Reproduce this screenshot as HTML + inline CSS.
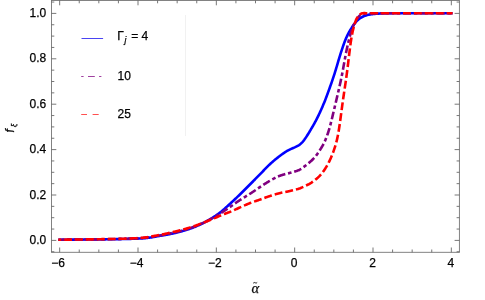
<!DOCTYPE html>
<html><head><meta charset="utf-8"><title>plot</title>
<style>
html,body{margin:0;padding:0;background:#fff;}
svg{display:block;font-family:"Liberation Sans",sans-serif;}
</style></head><body>
<svg width="485" height="300" viewBox="0 0 485 300">
<rect width="485" height="300" fill="#fff"/>
<line x1="185.5" y1="15" x2="185.5" y2="136" stroke="#f1f1f1" stroke-width="1"/>
<g fill="none" stroke-linejoin="round">
<path d="M59.66,239.70 L60.16,239.70 L60.66,239.70 L61.16,239.70 L61.66,239.69 L62.16,239.69 L62.66,239.69 L63.16,239.69 L63.66,239.69 L64.16,239.69 L64.66,239.68 L65.16,239.68 L65.66,239.68 L66.16,239.68 L66.66,239.68 L67.16,239.67 L67.66,239.67 L68.16,239.67 L68.66,239.67 L69.16,239.66 L69.66,239.66 L70.16,239.66 L70.66,239.66 L71.16,239.65 L71.66,239.65 L72.16,239.65 L72.66,239.65 L73.16,239.64 L73.66,239.64 L74.16,239.64 L74.66,239.63 L75.16,239.63 L75.66,239.63 L76.16,239.62 L76.66,239.62 L77.16,239.62 L77.66,239.62 L78.16,239.61 L78.66,239.61 L79.16,239.61 L79.66,239.60 L80.16,239.60 L80.66,239.60 L81.16,239.59 L81.66,239.59 L82.16,239.58 L82.66,239.58 L83.16,239.58 L83.66,239.57 L84.16,239.57 L84.66,239.56 L85.16,239.56 L85.66,239.56 L86.16,239.55 L86.66,239.55 L87.16,239.54 L87.66,239.54 L88.16,239.53 L88.66,239.53 L89.16,239.52 L89.66,239.52 L90.16,239.51 L90.66,239.51 L91.16,239.50 L91.66,239.50 L92.16,239.49 L92.66,239.48 L93.16,239.48 L93.66,239.47 L94.16,239.47 L94.66,239.46 L95.16,239.46 L95.66,239.45 L96.16,239.45 L96.66,239.44 L97.16,239.43 L97.66,239.43 L98.16,239.42 L98.66,239.42 L99.16,239.41 L99.66,239.40 L100.16,239.40 L100.66,239.39 L101.16,239.39 L101.66,239.38 L102.16,239.37 L102.66,239.37 L103.16,239.36 L103.66,239.36 L104.16,239.35 L104.66,239.34 L105.16,239.34 L105.66,239.33 L106.16,239.32 L106.66,239.32 L107.16,239.31 L107.66,239.30 L108.16,239.30 L108.66,239.29 L109.16,239.28 L109.66,239.27 L110.16,239.27 L110.66,239.26 L111.16,239.25 L111.66,239.25 L112.16,239.24 L112.66,239.23 L113.16,239.22 L113.66,239.21 L114.16,239.21 L114.66,239.20 L115.16,239.19 L115.66,239.18 L116.16,239.17 L116.66,239.16 L117.16,239.15 L117.66,239.14 L118.16,239.14 L118.66,239.13 L119.16,239.12 L119.66,239.11 L120.16,239.10 L120.66,239.09 L121.16,239.08 L121.66,239.07 L122.16,239.06 L122.66,239.05 L123.16,239.03 L123.66,239.02 L124.16,239.01 L124.66,239.00 L125.16,238.99 L125.66,238.98 L126.16,238.97 L126.66,238.96 L127.16,238.94 L127.66,238.93 L128.16,238.92 L128.66,238.90 L129.16,238.89 L129.66,238.88 L130.16,238.86 L130.66,238.85 L131.16,238.83 L131.66,238.82 L132.16,238.80 L132.66,238.79 L133.16,238.77 L133.66,238.76 L134.16,238.74 L134.66,238.72 L135.16,238.70 L135.66,238.68 L136.16,238.66 L136.66,238.64 L137.16,238.62 L137.66,238.60 L138.16,238.58 L138.66,238.56 L139.16,238.54 L139.66,238.51 L140.16,238.49 L140.66,238.46 L141.16,238.43 L141.66,238.40 L142.16,238.37 L142.66,238.33 L143.16,238.30 L143.66,238.26 L144.16,238.21 L144.66,238.17 L145.16,238.12 L145.66,238.08 L146.16,238.03 L146.66,237.98 L147.16,237.92 L147.66,237.87 L148.16,237.81 L148.66,237.76 L149.16,237.70 L149.66,237.64 L150.16,237.57 L150.66,237.50 L151.16,237.43 L151.66,237.35 L152.16,237.26 L152.66,237.17 L153.16,237.08 L153.66,236.98 L154.16,236.89 L154.66,236.79 L155.16,236.69 L155.66,236.60 L156.16,236.50 L156.66,236.41 L157.16,236.32 L157.66,236.23 L158.16,236.14 L158.66,236.06 L159.16,235.97 L159.66,235.88 L160.16,235.80 L160.66,235.72 L161.16,235.63 L161.66,235.55 L162.16,235.46 L162.66,235.38 L163.16,235.29 L163.66,235.21 L164.16,235.13 L164.66,235.04 L165.16,234.95 L165.66,234.87 L166.16,234.78 L166.66,234.69 L167.16,234.60 L167.66,234.51 L168.16,234.42 L168.66,234.33 L169.16,234.24 L169.66,234.14 L170.16,234.05 L170.66,233.95 L171.16,233.85 L171.66,233.74 L172.16,233.64 L172.66,233.53 L173.16,233.43 L173.66,233.32 L174.16,233.20 L174.66,233.09 L175.16,232.97 L175.66,232.86 L176.16,232.74 L176.66,232.61 L177.16,232.49 L177.66,232.36 L178.16,232.24 L178.66,232.11 L179.16,231.98 L179.66,231.84 L180.16,231.71 L180.66,231.57 L181.16,231.43 L181.66,231.29 L182.16,231.15 L182.66,231.01 L183.16,230.86 L183.66,230.71 L184.16,230.56 L184.66,230.41 L185.16,230.26 L185.66,230.11 L186.16,229.95 L186.66,229.79 L187.16,229.63 L187.66,229.47 L188.16,229.31 L188.66,229.15 L189.16,228.98 L189.66,228.81 L190.16,228.64 L190.66,228.46 L191.16,228.29 L191.66,228.11 L192.16,227.92 L192.66,227.73 L193.16,227.54 L193.66,227.34 L194.16,227.14 L194.66,226.94 L195.16,226.73 L195.66,226.52 L196.16,226.31 L196.66,226.09 L197.16,225.88 L197.66,225.66 L198.16,225.43 L198.66,225.21 L199.16,224.98 L199.66,224.75 L200.16,224.52 L200.66,224.28 L201.16,224.05 L201.66,223.81 L202.16,223.56 L202.66,223.31 L203.16,223.06 L203.66,222.81 L204.16,222.55 L204.66,222.29 L205.16,222.02 L205.66,221.75 L206.16,221.48 L206.66,221.21 L207.16,220.93 L207.66,220.65 L208.16,220.36 L208.66,220.08 L209.16,219.79 L209.66,219.49 L210.16,219.20 L210.66,218.90 L211.16,218.60 L211.66,218.29 L212.16,217.98 L212.66,217.67 L213.16,217.35 L213.66,217.03 L214.16,216.71 L214.66,216.38 L215.16,216.05 L215.66,215.71 L216.16,215.37 L216.66,215.02 L217.16,214.67 L217.66,214.32 L218.16,213.96 L218.66,213.59 L219.16,213.22 L219.66,212.84 L220.16,212.46 L220.66,212.07 L221.16,211.67 L221.66,211.27 L222.16,210.85 L222.66,210.43 L223.16,210.00 L223.66,209.57 L224.16,209.13 L224.66,208.68 L225.16,208.23 L225.66,207.78 L226.16,207.33 L226.66,206.87 L227.16,206.41 L227.66,205.95 L228.16,205.49 L228.66,205.03 L229.16,204.57 L229.66,204.11 L230.16,203.65 L230.66,203.20 L231.16,202.74 L231.66,202.28 L232.16,201.82 L232.66,201.36 L233.16,200.89 L233.66,200.43 L234.16,199.96 L234.66,199.49 L235.16,199.02 L235.66,198.55 L236.16,198.08 L236.66,197.60 L237.16,197.13 L237.66,196.65 L238.16,196.17 L238.66,195.69 L239.16,195.21 L239.66,194.73 L240.16,194.24 L240.66,193.75 L241.16,193.26 L241.66,192.77 L242.16,192.28 L242.66,191.78 L243.16,191.29 L243.66,190.79 L244.16,190.29 L244.66,189.78 L245.16,189.28 L245.66,188.78 L246.16,188.27 L246.66,187.77 L247.16,187.26 L247.66,186.76 L248.16,186.26 L248.66,185.75 L249.16,185.25 L249.66,184.74 L250.16,184.24 L250.66,183.74 L251.16,183.23 L251.66,182.73 L252.16,182.23 L252.66,181.72 L253.16,181.22 L253.66,180.71 L254.16,180.21 L254.66,179.71 L255.16,179.20 L255.66,178.70 L256.16,178.19 L256.66,177.68 L257.16,177.18 L257.66,176.67 L258.16,176.17 L258.66,175.66 L259.16,175.15 L259.66,174.64 L260.16,174.13 L260.66,173.62 L261.16,173.10 L261.66,172.58 L262.16,172.06 L262.66,171.54 L263.16,171.01 L263.66,170.49 L264.16,169.96 L264.66,169.44 L265.16,168.91 L265.66,168.39 L266.16,167.88 L266.66,167.37 L267.16,166.86 L267.66,166.36 L268.16,165.87 L268.66,165.38 L269.16,164.90 L269.66,164.43 L270.16,163.97 L270.66,163.51 L271.16,163.06 L271.66,162.62 L272.16,162.18 L272.66,161.74 L273.16,161.31 L273.66,160.88 L274.16,160.46 L274.66,160.04 L275.16,159.62 L275.66,159.21 L276.16,158.81 L276.66,158.40 L277.16,158.00 L277.66,157.61 L278.16,157.22 L278.66,156.83 L279.16,156.44 L279.66,156.06 L280.16,155.68 L280.66,155.31 L281.16,154.94 L281.66,154.57 L282.16,154.21 L282.66,153.85 L283.16,153.49 L283.66,153.14 L284.16,152.80 L284.66,152.47 L285.16,152.14 L285.66,151.83 L286.16,151.52 L286.66,151.22 L287.16,150.92 L287.66,150.64 L288.16,150.36 L288.66,150.09 L289.16,149.84 L289.66,149.59 L290.16,149.35 L290.66,149.12 L291.16,148.90 L291.66,148.68 L292.16,148.47 L292.66,148.26 L293.16,148.05 L293.66,147.84 L294.16,147.62 L294.66,147.40 L295.16,147.18 L295.66,146.94 L296.16,146.70 L296.66,146.45 L297.16,146.18 L297.66,145.90 L298.16,145.61 L298.66,145.29 L299.16,144.96 L299.66,144.60 L300.16,144.21 L300.66,143.79 L301.16,143.35 L301.66,142.87 L302.16,142.36 L302.66,141.82 L303.16,141.24 L303.66,140.62 L304.16,139.98 L304.66,139.30 L305.16,138.60 L305.66,137.87 L306.16,137.12 L306.66,136.36 L307.16,135.57 L307.66,134.77 L308.16,133.96 L308.66,133.14 L309.16,132.31 L309.66,131.47 L310.16,130.64 L310.66,129.80 L311.16,128.96 L311.66,128.12 L312.16,127.27 L312.66,126.42 L313.16,125.56 L313.66,124.68 L314.16,123.79 L314.66,122.89 L315.16,121.97 L315.66,121.04 L316.16,120.09 L316.66,119.12 L317.16,118.14 L317.66,117.14 L318.16,116.13 L318.66,115.10 L319.16,114.06 L319.66,113.00 L320.16,111.92 L320.66,110.82 L321.16,109.71 L321.66,108.58 L322.16,107.43 L322.66,106.26 L323.16,105.08 L323.66,103.87 L324.16,102.65 L324.66,101.41 L325.16,100.15 L325.66,98.86 L326.16,97.55 L326.66,96.22 L327.16,94.87 L327.66,93.50 L328.16,92.12 L328.66,90.74 L329.16,89.34 L329.66,87.95 L330.16,86.56 L330.66,85.16 L331.16,83.76 L331.66,82.34 L332.16,80.90 L332.66,79.44 L333.16,77.95 L333.66,76.43 L334.16,74.88 L334.66,73.30 L335.16,71.70 L335.66,70.07 L336.16,68.42 L336.66,66.75 L337.16,65.07 L337.66,63.37 L338.16,61.67 L338.66,59.99 L339.16,58.31 L339.66,56.66 L340.16,55.04 L340.66,53.45 L341.16,51.88 L341.66,50.33 L342.16,48.82 L342.66,47.35 L343.16,45.91 L343.66,44.51 L344.16,43.15 L344.66,41.83 L345.16,40.55 L345.66,39.31 L346.16,38.11 L346.66,36.96 L347.16,35.85 L347.66,34.80 L348.16,33.79 L348.66,32.83 L349.16,31.92 L349.66,31.05 L350.16,30.21 L350.66,29.40 L351.16,28.61 L351.66,27.83 L352.16,27.07 L352.66,26.32 L353.16,25.59 L353.66,24.86 L354.16,24.16 L354.66,23.48 L355.16,22.83 L355.66,22.22 L356.16,21.65 L356.66,21.12 L357.16,20.62 L357.66,20.15 L358.16,19.71 L358.66,19.29 L359.16,18.90 L359.66,18.52 L360.16,18.17 L360.66,17.85 L361.16,17.54 L361.66,17.26 L362.16,16.99 L362.66,16.74 L363.16,16.51 L363.66,16.29 L364.16,16.08 L364.66,15.89 L365.16,15.70 L365.66,15.53 L366.16,15.38 L366.66,15.23 L367.16,15.10 L367.66,14.97 L368.16,14.85 L368.66,14.74 L369.16,14.64 L369.66,14.54 L370.16,14.45 L370.66,14.36 L371.16,14.29 L371.66,14.22 L372.16,14.15 L372.66,14.09 L373.16,14.03 L373.66,13.98 L374.16,13.93 L374.66,13.88 L375.16,13.84 L375.66,13.80 L376.16,13.76 L376.66,13.73 L377.16,13.69 L377.66,13.66 L378.16,13.63 L378.66,13.61 L379.16,13.58 L379.66,13.56 L380.16,13.53 L380.66,13.51 L381.16,13.49 L381.66,13.47 L382.16,13.45 L382.66,13.44 L383.16,13.42 L383.66,13.41 L384.16,13.40 L384.66,13.39 L385.16,13.38 L385.66,13.37 L386.16,13.36 L386.66,13.35 L387.16,13.34 L387.66,13.34 L388.16,13.33 L388.66,13.32 L389.16,13.32 L389.66,13.31 L390.16,13.31 L390.66,13.31 L391.16,13.30 L391.66,13.30 L392.16,13.30 L392.66,13.30 L393.16,13.30 L393.66,13.30 L394.16,13.30 L394.66,13.30 L395.16,13.30 L395.66,13.30 L396.16,13.30 L396.66,13.30 L397.16,13.30 L397.66,13.30 L398.16,13.30 L398.66,13.30 L399.16,13.30 L399.66,13.30 L400.16,13.30 L400.66,13.30 L401.16,13.30 L401.66,13.30 L402.16,13.30 L402.66,13.30 L403.16,13.30 L403.66,13.30 L404.16,13.30 L404.66,13.30 L405.16,13.30 L405.66,13.30 L406.16,13.30 L406.66,13.30 L407.16,13.30 L407.66,13.30 L408.16,13.30 L408.66,13.30 L409.16,13.30 L409.66,13.30 L410.16,13.30 L410.66,13.30 L411.16,13.30 L411.66,13.30 L412.16,13.30 L412.66,13.30 L413.16,13.30 L413.66,13.30 L414.16,13.30 L414.66,13.30 L415.16,13.30 L415.66,13.30 L416.16,13.30 L416.66,13.30 L417.16,13.30 L417.66,13.30 L418.16,13.30 L418.66,13.30 L419.16,13.30 L419.66,13.30 L420.16,13.30 L420.66,13.30 L421.16,13.30 L421.66,13.30 L422.16,13.30 L422.66,13.30 L423.16,13.30 L423.66,13.30 L424.16,13.30 L424.66,13.30 L425.16,13.30 L425.66,13.30 L426.16,13.30 L426.66,13.30 L427.16,13.30 L427.66,13.30 L428.16,13.30 L428.66,13.30 L429.16,13.30 L429.66,13.30 L430.16,13.30 L430.66,13.30 L431.16,13.30 L431.66,13.30 L432.16,13.30 L432.66,13.30 L433.16,13.30 L433.66,13.30 L434.16,13.30 L434.66,13.30 L435.16,13.30 L435.66,13.30 L436.16,13.30 L436.66,13.30 L437.16,13.30 L437.66,13.30 L438.16,13.30 L438.66,13.30 L439.16,13.30 L439.66,13.30 L440.16,13.30 L440.66,13.30 L441.16,13.30 L441.66,13.30 L442.16,13.30 L442.66,13.30 L443.16,13.30 L443.66,13.30 L444.16,13.30 L444.66,13.30 L445.16,13.30 L445.66,13.30 L446.16,13.30 L446.66,13.30 L447.16,13.30 L447.66,13.30 L448.16,13.30 L448.66,13.30 L449.16,13.30 L449.66,13.30 L450.16,13.30 L450.66,13.30 L451.34,13.30" stroke="#0000ff" stroke-width="2.6" stroke-linecap="square"/>
<path d="M59.66,239.70 L60.16,239.69 L60.66,239.69 L61.16,239.69 L61.66,239.68 L62.16,239.68 L62.66,239.67 L63.16,239.67 L63.66,239.66 L64.16,239.66 L64.66,239.65 L65.16,239.65 L65.66,239.64 L66.16,239.64 L66.66,239.63 L67.16,239.63 L67.66,239.62 L68.16,239.62 L68.66,239.61 L69.16,239.61 L69.66,239.60 L70.16,239.60 L70.66,239.59 L71.16,239.59 L71.66,239.58 L72.16,239.58 L72.66,239.57 L73.16,239.57 L73.66,239.56 L74.16,239.56 L74.66,239.55 L75.16,239.55 L75.66,239.54 L76.16,239.54 L76.66,239.53 L77.16,239.53 L77.66,239.52 L78.16,239.52 L78.66,239.51 L79.16,239.51 L79.66,239.50 L80.16,239.50 L80.66,239.49 L81.16,239.49 L81.66,239.48 L82.16,239.48 L82.66,239.47 L83.16,239.47 L83.66,239.47 L84.16,239.46 L84.66,239.46 L85.16,239.45 L85.66,239.45 L86.16,239.44 L86.66,239.44 L87.16,239.43 L87.66,239.43 L88.16,239.43 L88.66,239.42 L89.16,239.42 L89.66,239.41 L90.16,239.41 L90.66,239.40 L91.16,239.40 L91.66,239.39 L92.16,239.39 L92.66,239.38 L93.16,239.38 L93.66,239.37 L94.16,239.37 L94.66,239.36 L95.16,239.36 L95.66,239.35 L96.16,239.35 L96.66,239.34 L97.16,239.34 L97.66,239.33 L98.16,239.32 L98.66,239.32 L99.16,239.31 L99.66,239.30 L100.16,239.30 L100.66,239.29 L101.16,239.28 L101.66,239.28 L102.16,239.27 L102.66,239.26 L103.16,239.25 L103.66,239.25 L104.16,239.24 L104.66,239.23 L105.16,239.22 L105.66,239.21 L106.16,239.20 L106.66,239.19 L107.16,239.19 L107.66,239.18 L108.16,239.17 L108.66,239.16 L109.16,239.15 L109.66,239.14 L110.16,239.13 L110.66,239.12 L111.16,239.11 L111.66,239.10 L112.16,239.08 L112.66,239.07 L113.16,239.06 L113.66,239.05 L114.16,239.04 L114.66,239.03 L115.16,239.02 L115.66,239.01 L116.16,238.99 L116.66,238.98 L117.16,238.97 L117.66,238.96 L118.16,238.95 L118.66,238.93 L119.16,238.92 L119.66,238.91 L120.16,238.90 L120.66,238.88 L121.16,238.87 L121.66,238.86 L122.16,238.85 L122.66,238.83 L123.16,238.82 L123.66,238.81 L124.16,238.79 L124.66,238.78 L125.16,238.77 L125.66,238.75 L126.16,238.74 L126.66,238.73 L127.16,238.71 L127.66,238.70 L128.16,238.68 L128.66,238.67 L129.16,238.65 L129.66,238.64 L130.16,238.62 L130.66,238.60 L131.16,238.59 L131.66,238.57 L132.16,238.55 L132.66,238.53 L133.16,238.52 L133.66,238.50 L134.16,238.48 L134.66,238.46 L135.16,238.44 L135.66,238.41 L136.16,238.39 L136.66,238.37 L137.16,238.35 L137.66,238.32 L138.16,238.30 L138.66,238.27 L139.16,238.24 L139.66,238.22 L140.16,238.19 L140.66,238.15 L141.16,238.12 L141.66,238.08 L142.16,238.04 L142.66,237.99 L143.16,237.95 L143.66,237.90 L144.16,237.84 L144.66,237.79 L145.16,237.73 L145.66,237.67 L146.16,237.61 L146.66,237.54 L147.16,237.47 L147.66,237.40 L148.16,237.33 L148.66,237.26 L149.16,237.19 L149.66,237.11 L150.16,237.04 L150.66,236.96 L151.16,236.88 L151.66,236.80 L152.16,236.72 L152.66,236.65 L153.16,236.57 L153.66,236.48 L154.16,236.40 L154.66,236.32 L155.16,236.24 L155.66,236.17 L156.16,236.09 L156.66,236.01 L157.16,235.93 L157.66,235.85 L158.16,235.76 L158.66,235.68 L159.16,235.60 L159.66,235.51 L160.16,235.43 L160.66,235.34 L161.16,235.25 L161.66,235.17 L162.16,235.08 L162.66,234.98 L163.16,234.89 L163.66,234.80 L164.16,234.70 L164.66,234.61 L165.16,234.51 L165.66,234.42 L166.16,234.32 L166.66,234.22 L167.16,234.12 L167.66,234.01 L168.16,233.91 L168.66,233.81 L169.16,233.70 L169.66,233.60 L170.16,233.49 L170.66,233.38 L171.16,233.27 L171.66,233.16 L172.16,233.05 L172.66,232.94 L173.16,232.83 L173.66,232.72 L174.16,232.60 L174.66,232.48 L175.16,232.37 L175.66,232.25 L176.16,232.13 L176.66,232.01 L177.16,231.88 L177.66,231.76 L178.16,231.63 L178.66,231.51 L179.16,231.38 L179.66,231.25 L180.16,231.12 L180.66,230.99 L181.16,230.85 L181.66,230.71 L182.16,230.58 L182.66,230.44 L183.16,230.30 L183.66,230.15 L184.16,230.01 L184.66,229.86 L185.16,229.72 L185.66,229.57 L186.16,229.42 L186.66,229.26 L187.16,229.11 L187.66,228.95 L188.16,228.79 L188.66,228.63 L189.16,228.47 L189.66,228.31 L190.16,228.14 L190.66,227.97 L191.16,227.80 L191.66,227.62 L192.16,227.45 L192.66,227.27 L193.16,227.08 L193.66,226.90 L194.16,226.71 L194.66,226.51 L195.16,226.32 L195.66,226.12 L196.16,225.92 L196.66,225.72 L197.16,225.51 L197.66,225.31 L198.16,225.10 L198.66,224.88 L199.16,224.67 L199.66,224.45 L200.16,224.24 L200.66,224.01 L201.16,223.79 L201.66,223.57 L202.16,223.34 L202.66,223.11 L203.16,222.88 L203.66,222.65 L204.16,222.41 L204.66,222.18 L205.16,221.94 L205.66,221.70 L206.16,221.46 L206.66,221.21 L207.16,220.97 L207.66,220.72 L208.16,220.46 L208.66,220.20 L209.16,219.94 L209.66,219.68 L210.16,219.41 L210.66,219.13 L211.16,218.86 L211.66,218.58 L212.16,218.29 L212.66,218.01 L213.16,217.72 L213.66,217.43 L214.16,217.13 L214.66,216.84 L215.16,216.54 L215.66,216.24 L216.16,215.94 L216.66,215.64 L217.16,215.34 L217.66,215.03 L218.16,214.73 L218.66,214.42 L219.16,214.11 L219.66,213.81 L220.16,213.50 L220.66,213.19 L221.16,212.87 L221.66,212.56 L222.16,212.24 L222.66,211.91 L223.16,211.59 L223.66,211.26 L224.16,210.93 L224.66,210.60 L225.16,210.27 L225.66,209.94 L226.16,209.60 L226.66,209.26 L227.16,208.93 L227.66,208.59 L228.16,208.25 L228.66,207.91 L229.16,207.57 L229.66,207.23 L230.16,206.89 L230.66,206.54 L231.16,206.20 L231.66,205.85 L232.16,205.50 L232.66,205.14 L233.16,204.79 L233.66,204.43 L234.16,204.07 L234.66,203.72 L235.16,203.36 L235.66,203.00 L236.16,202.65 L236.66,202.29 L237.16,201.94 L237.66,201.59 L238.16,201.25 L238.66,200.91 L239.16,200.57 L239.66,200.23 L240.16,199.90 L240.66,199.58 L241.16,199.26 L241.66,198.94 L242.16,198.63 L242.66,198.31 L243.16,198.01 L243.66,197.70 L244.16,197.39 L244.66,197.09 L245.16,196.79 L245.66,196.48 L246.16,196.18 L246.66,195.88 L247.16,195.57 L247.66,195.26 L248.16,194.95 L248.66,194.64 L249.16,194.33 L249.66,194.01 L250.16,193.69 L250.66,193.37 L251.16,193.04 L251.66,192.71 L252.16,192.38 L252.66,192.04 L253.16,191.71 L253.66,191.37 L254.16,191.03 L254.66,190.69 L255.16,190.35 L255.66,190.01 L256.16,189.67 L256.66,189.34 L257.16,189.00 L257.66,188.66 L258.16,188.32 L258.66,187.99 L259.16,187.66 L259.66,187.33 L260.16,186.99 L260.66,186.66 L261.16,186.33 L261.66,186.00 L262.16,185.67 L262.66,185.34 L263.16,185.00 L263.66,184.67 L264.16,184.34 L264.66,184.01 L265.16,183.68 L265.66,183.36 L266.16,183.04 L266.66,182.72 L267.16,182.40 L267.66,182.09 L268.16,181.79 L268.66,181.49 L269.16,181.19 L269.66,180.90 L270.16,180.61 L270.66,180.33 L271.16,180.05 L271.66,179.77 L272.16,179.49 L272.66,179.21 L273.16,178.94 L273.66,178.67 L274.16,178.40 L274.66,178.13 L275.16,177.87 L275.66,177.62 L276.16,177.37 L276.66,177.13 L277.16,176.89 L277.66,176.67 L278.16,176.45 L278.66,176.24 L279.16,176.04 L279.66,175.84 L280.16,175.66 L280.66,175.48 L281.16,175.32 L281.66,175.16 L282.16,175.00 L282.66,174.85 L283.16,174.71 L283.66,174.57 L284.16,174.43 L284.66,174.30 L285.16,174.16 L285.66,174.03 L286.16,173.90 L286.66,173.78 L287.16,173.65 L287.66,173.52 L288.16,173.39 L288.66,173.26 L289.16,173.13 L289.66,172.99 L290.16,172.86 L290.66,172.72 L291.16,172.59 L291.66,172.45 L292.16,172.32 L292.66,172.18 L293.16,172.04 L293.66,171.90 L294.16,171.75 L294.66,171.60 L295.16,171.44 L295.66,171.28 L296.16,171.11 L296.66,170.94 L297.16,170.77 L297.66,170.58 L298.16,170.39 L298.66,170.18 L299.16,169.96 L299.66,169.72 L300.16,169.46 L300.66,169.18 L301.16,168.87 L301.66,168.54 L302.16,168.19 L302.66,167.82 L303.16,167.44 L303.66,167.05 L304.16,166.66 L304.66,166.27 L305.16,165.88 L305.66,165.50 L306.16,165.11 L306.66,164.73 L307.16,164.34 L307.66,163.94 L308.16,163.54 L308.66,163.13 L309.16,162.71 L309.66,162.28 L310.16,161.84 L310.66,161.39 L311.16,160.93 L311.66,160.46 L312.16,159.98 L312.66,159.49 L313.16,158.98 L313.66,158.45 L314.16,157.91 L314.66,157.35 L315.16,156.76 L315.66,156.15 L316.16,155.52 L316.66,154.87 L317.16,154.19 L317.66,153.49 L318.16,152.77 L318.66,152.03 L319.16,151.28 L319.66,150.51 L320.16,149.72 L320.66,148.92 L321.16,148.10 L321.66,147.27 L322.16,146.41 L322.66,145.52 L323.16,144.61 L323.66,143.65 L324.16,142.66 L324.66,141.61 L325.16,140.51 L325.66,139.34 L326.16,138.10 L326.66,136.80 L327.16,135.43 L327.66,133.99 L328.16,132.48 L328.66,130.90 L329.16,129.25 L329.66,127.52 L330.16,125.71 L330.66,123.82 L331.16,121.85 L331.66,119.81 L332.16,117.73 L332.66,115.62 L333.16,113.49 L333.66,111.38 L334.16,109.28 L334.66,107.19 L335.16,105.10 L335.66,103.01 L336.16,100.90 L336.66,98.79 L337.16,96.65 L337.66,94.51 L338.16,92.35 L338.66,90.17 L339.16,87.98 L339.66,85.77 L340.16,83.53 L340.66,81.25 L341.16,78.90 L341.66,76.47 L342.16,73.94 L342.66,71.30 L343.16,68.57 L343.66,65.78 L344.16,62.96 L344.66,60.15 L345.16,57.41 L345.66,54.76 L346.16,52.22 L346.66,49.79 L347.16,47.46 L347.66,45.22 L348.16,43.06 L348.66,40.98 L349.16,38.96 L349.66,37.02 L350.16,35.16 L350.66,33.41 L351.16,31.76 L351.66,30.23 L352.16,28.81 L352.66,27.49 L353.16,26.25 L353.66,25.08 L354.16,23.98 L354.66,22.93 L355.16,21.95 L355.66,21.02 L356.16,20.16 L356.66,19.35 L357.16,18.59 L357.66,17.89 L358.16,17.25 L358.66,16.66 L359.16,16.15 L359.66,15.70 L360.16,15.32 L360.66,14.99 L361.16,14.72 L361.66,14.48 L362.16,14.27 L362.66,14.09 L363.16,13.94 L363.66,13.81 L364.16,13.71 L364.66,13.62 L365.16,13.54 L365.66,13.48 L366.16,13.42 L366.66,13.38 L367.16,13.35 L367.66,13.33 L368.16,13.31 L368.66,13.30 L369.16,13.30 L369.66,13.30 L370.16,13.30 L370.66,13.30 L371.16,13.30 L371.66,13.30 L372.16,13.30 L372.66,13.30 L373.16,13.30 L373.66,13.30 L374.16,13.30 L374.66,13.30 L375.16,13.30 L375.66,13.30 L376.16,13.30 L376.66,13.30 L377.16,13.30 L377.66,13.30 L378.16,13.30 L378.66,13.30 L379.16,13.30 L379.66,13.30 L380.16,13.30 L380.66,13.30 L381.16,13.30 L381.66,13.30 L382.16,13.30 L382.66,13.30 L383.16,13.30 L383.66,13.30 L384.16,13.30 L384.66,13.30 L385.16,13.30 L385.66,13.30 L386.16,13.30 L386.66,13.30 L387.16,13.30 L387.66,13.30 L388.16,13.30 L388.66,13.30 L389.16,13.30 L389.66,13.30 L390.16,13.30 L390.66,13.30 L391.16,13.30 L391.66,13.30 L392.16,13.30 L392.66,13.30 L393.16,13.30 L393.66,13.30 L394.16,13.30 L394.66,13.30 L395.16,13.30 L395.66,13.30 L396.16,13.30 L396.66,13.30 L397.16,13.30 L397.66,13.30 L398.16,13.30 L398.66,13.30 L399.16,13.30 L399.66,13.30 L400.16,13.30 L400.66,13.30 L401.16,13.30 L401.66,13.30 L402.16,13.30 L402.66,13.30 L403.16,13.30 L403.66,13.30 L404.16,13.30 L404.66,13.30 L405.16,13.30 L405.66,13.30 L406.16,13.30 L406.66,13.30 L407.16,13.30 L407.66,13.30 L408.16,13.30 L408.66,13.30 L409.16,13.30 L409.66,13.30 L410.16,13.30 L410.66,13.30 L411.16,13.30 L411.66,13.30 L412.16,13.30 L412.66,13.30 L413.16,13.30 L413.66,13.30 L414.16,13.30 L414.66,13.30 L415.16,13.30 L415.66,13.30 L416.16,13.30 L416.66,13.30 L417.16,13.30 L417.66,13.30 L418.16,13.30 L418.66,13.30 L419.16,13.30 L419.66,13.30 L420.16,13.30 L420.66,13.30 L421.16,13.30 L421.66,13.30 L422.16,13.30 L422.66,13.30 L423.16,13.30 L423.66,13.30 L424.16,13.30 L424.66,13.30 L425.16,13.30 L425.66,13.30 L426.16,13.30 L426.66,13.30 L427.16,13.30 L427.66,13.30 L428.16,13.30 L428.66,13.30 L429.16,13.30 L429.66,13.30 L430.16,13.30 L430.66,13.30 L431.16,13.30 L431.66,13.30 L432.16,13.30 L432.66,13.30 L433.16,13.30 L433.66,13.30 L434.16,13.30 L434.66,13.30 L435.16,13.30 L435.66,13.30 L436.16,13.30 L436.66,13.30 L437.16,13.30 L437.66,13.30 L438.16,13.30 L438.66,13.30 L439.16,13.30 L439.66,13.30 L440.16,13.30 L440.66,13.30 L441.16,13.30 L441.66,13.30 L442.16,13.30 L442.66,13.30 L443.16,13.30 L443.66,13.30 L444.16,13.30 L444.66,13.30 L445.16,13.30 L445.66,13.30 L446.16,13.30 L446.66,13.30 L447.16,13.30 L447.66,13.30 L448.16,13.30 L448.66,13.30 L449.16,13.30 L449.66,13.30 L450.16,13.30 L450.66,13.30 L451.34,13.30" stroke="#800080" stroke-width="2.6" stroke-linecap="square" stroke-dasharray="1 5.4 5.1 5.4" stroke-dashoffset="7.9"/>
<path d="M59.66,239.70 L60.16,239.70 L60.66,239.69 L61.16,239.69 L61.66,239.69 L62.16,239.68 L62.66,239.68 L63.16,239.67 L63.66,239.67 L64.16,239.66 L64.66,239.66 L65.16,239.66 L65.66,239.65 L66.16,239.65 L66.66,239.64 L67.16,239.64 L67.66,239.63 L68.16,239.63 L68.66,239.62 L69.16,239.62 L69.66,239.61 L70.16,239.61 L70.66,239.60 L71.16,239.60 L71.66,239.59 L72.16,239.59 L72.66,239.58 L73.16,239.58 L73.66,239.57 L74.16,239.57 L74.66,239.56 L75.16,239.56 L75.66,239.55 L76.16,239.54 L76.66,239.54 L77.16,239.53 L77.66,239.53 L78.16,239.52 L78.66,239.52 L79.16,239.51 L79.66,239.50 L80.16,239.50 L80.66,239.49 L81.16,239.49 L81.66,239.48 L82.16,239.47 L82.66,239.47 L83.16,239.46 L83.66,239.45 L84.16,239.45 L84.66,239.44 L85.16,239.43 L85.66,239.43 L86.16,239.42 L86.66,239.41 L87.16,239.41 L87.66,239.40 L88.16,239.39 L88.66,239.38 L89.16,239.38 L89.66,239.37 L90.16,239.36 L90.66,239.35 L91.16,239.35 L91.66,239.34 L92.16,239.33 L92.66,239.32 L93.16,239.31 L93.66,239.31 L94.16,239.30 L94.66,239.29 L95.16,239.28 L95.66,239.27 L96.16,239.26 L96.66,239.26 L97.16,239.25 L97.66,239.24 L98.16,239.23 L98.66,239.22 L99.16,239.21 L99.66,239.21 L100.16,239.20 L100.66,239.19 L101.16,239.18 L101.66,239.17 L102.16,239.16 L102.66,239.15 L103.16,239.15 L103.66,239.14 L104.16,239.13 L104.66,239.12 L105.16,239.11 L105.66,239.10 L106.16,239.09 L106.66,239.08 L107.16,239.08 L107.66,239.07 L108.16,239.06 L108.66,239.05 L109.16,239.04 L109.66,239.03 L110.16,239.02 L110.66,239.01 L111.16,239.00 L111.66,238.99 L112.16,238.98 L112.66,238.97 L113.16,238.96 L113.66,238.95 L114.16,238.94 L114.66,238.93 L115.16,238.92 L115.66,238.91 L116.16,238.89 L116.66,238.88 L117.16,238.87 L117.66,238.86 L118.16,238.85 L118.66,238.83 L119.16,238.82 L119.66,238.81 L120.16,238.80 L120.66,238.78 L121.16,238.77 L121.66,238.76 L122.16,238.74 L122.66,238.73 L123.16,238.71 L123.66,238.70 L124.16,238.68 L124.66,238.67 L125.16,238.65 L125.66,238.64 L126.16,238.62 L126.66,238.61 L127.16,238.59 L127.66,238.58 L128.16,238.56 L128.66,238.54 L129.16,238.52 L129.66,238.51 L130.16,238.49 L130.66,238.47 L131.16,238.45 L131.66,238.43 L132.16,238.41 L132.66,238.39 L133.16,238.36 L133.66,238.34 L134.16,238.32 L134.66,238.30 L135.16,238.27 L135.66,238.25 L136.16,238.22 L136.66,238.19 L137.16,238.17 L137.66,238.14 L138.16,238.11 L138.66,238.08 L139.16,238.05 L139.66,238.02 L140.16,237.98 L140.66,237.95 L141.16,237.91 L141.66,237.86 L142.16,237.82 L142.66,237.76 L143.16,237.71 L143.66,237.65 L144.16,237.59 L144.66,237.53 L145.16,237.46 L145.66,237.39 L146.16,237.32 L146.66,237.24 L147.16,237.17 L147.66,237.09 L148.16,237.01 L148.66,236.93 L149.16,236.84 L149.66,236.76 L150.16,236.67 L150.66,236.58 L151.16,236.50 L151.66,236.41 L152.16,236.32 L152.66,236.23 L153.16,236.14 L153.66,236.05 L154.16,235.96 L154.66,235.86 L155.16,235.77 L155.66,235.69 L156.16,235.60 L156.66,235.51 L157.16,235.42 L157.66,235.33 L158.16,235.24 L158.66,235.14 L159.16,235.05 L159.66,234.96 L160.16,234.86 L160.66,234.76 L161.16,234.67 L161.66,234.57 L162.16,234.47 L162.66,234.36 L163.16,234.26 L163.66,234.16 L164.16,234.05 L164.66,233.95 L165.16,233.84 L165.66,233.73 L166.16,233.63 L166.66,233.52 L167.16,233.41 L167.66,233.30 L168.16,233.18 L168.66,233.07 L169.16,232.96 L169.66,232.85 L170.16,232.73 L170.66,232.62 L171.16,232.50 L171.66,232.38 L172.16,232.27 L172.66,232.15 L173.16,232.03 L173.66,231.91 L174.16,231.79 L174.66,231.67 L175.16,231.55 L175.66,231.43 L176.16,231.31 L176.66,231.19 L177.16,231.06 L177.66,230.94 L178.16,230.81 L178.66,230.68 L179.16,230.55 L179.66,230.43 L180.16,230.30 L180.66,230.16 L181.16,230.03 L181.66,229.90 L182.16,229.76 L182.66,229.63 L183.16,229.49 L183.66,229.35 L184.16,229.22 L184.66,229.08 L185.16,228.93 L185.66,228.79 L186.16,228.65 L186.66,228.50 L187.16,228.36 L187.66,228.21 L188.16,228.06 L188.66,227.91 L189.16,227.76 L189.66,227.60 L190.16,227.45 L190.66,227.29 L191.16,227.13 L191.66,226.97 L192.16,226.80 L192.66,226.64 L193.16,226.47 L193.66,226.30 L194.16,226.13 L194.66,225.95 L195.16,225.78 L195.66,225.60 L196.16,225.42 L196.66,225.24 L197.16,225.06 L197.66,224.88 L198.16,224.69 L198.66,224.51 L199.16,224.32 L199.66,224.13 L200.16,223.94 L200.66,223.75 L201.16,223.56 L201.66,223.37 L202.16,223.17 L202.66,222.98 L203.16,222.79 L203.66,222.59 L204.16,222.40 L204.66,222.20 L205.16,222.00 L205.66,221.81 L206.16,221.61 L206.66,221.41 L207.16,221.21 L207.66,221.01 L208.16,220.81 L208.66,220.61 L209.16,220.40 L209.66,220.19 L210.16,219.98 L210.66,219.77 L211.16,219.56 L211.66,219.35 L212.16,219.14 L212.66,218.92 L213.16,218.71 L213.66,218.50 L214.16,218.28 L214.66,218.07 L215.16,217.86 L215.66,217.64 L216.16,217.43 L216.66,217.22 L217.16,217.00 L217.66,216.79 L218.16,216.57 L218.66,216.36 L219.16,216.14 L219.66,215.92 L220.16,215.71 L220.66,215.49 L221.16,215.28 L221.66,215.07 L222.16,214.86 L222.66,214.65 L223.16,214.45 L223.66,214.24 L224.16,214.04 L224.66,213.85 L225.16,213.66 L225.66,213.47 L226.16,213.28 L226.66,213.10 L227.16,212.92 L227.66,212.74 L228.16,212.56 L228.66,212.37 L229.16,212.19 L229.66,212.01 L230.16,211.82 L230.66,211.63 L231.16,211.43 L231.66,211.23 L232.16,211.02 L232.66,210.81 L233.16,210.59 L233.66,210.37 L234.16,210.14 L234.66,209.91 L235.16,209.68 L235.66,209.44 L236.16,209.20 L236.66,208.97 L237.16,208.73 L237.66,208.49 L238.16,208.25 L238.66,208.02 L239.16,207.79 L239.66,207.56 L240.16,207.33 L240.66,207.11 L241.16,206.88 L241.66,206.66 L242.16,206.43 L242.66,206.21 L243.16,205.99 L243.66,205.77 L244.16,205.55 L244.66,205.33 L245.16,205.11 L245.66,204.89 L246.16,204.68 L246.66,204.46 L247.16,204.25 L247.66,204.04 L248.16,203.84 L248.66,203.64 L249.16,203.44 L249.66,203.24 L250.16,203.05 L250.66,202.86 L251.16,202.67 L251.66,202.48 L252.16,202.30 L252.66,202.12 L253.16,201.95 L253.66,201.77 L254.16,201.60 L254.66,201.43 L255.16,201.26 L255.66,201.09 L256.16,200.92 L256.66,200.75 L257.16,200.58 L257.66,200.41 L258.16,200.24 L258.66,200.07 L259.16,199.89 L259.66,199.72 L260.16,199.54 L260.66,199.36 L261.16,199.18 L261.66,199.00 L262.16,198.81 L262.66,198.63 L263.16,198.44 L263.66,198.26 L264.16,198.07 L264.66,197.89 L265.16,197.70 L265.66,197.52 L266.16,197.33 L266.66,197.15 L267.16,196.97 L267.66,196.80 L268.16,196.62 L268.66,196.45 L269.16,196.28 L269.66,196.12 L270.16,195.95 L270.66,195.79 L271.16,195.63 L271.66,195.47 L272.16,195.32 L272.66,195.16 L273.16,195.01 L273.66,194.86 L274.16,194.71 L274.66,194.56 L275.16,194.41 L275.66,194.26 L276.16,194.12 L276.66,193.98 L277.16,193.84 L277.66,193.71 L278.16,193.57 L278.66,193.44 L279.16,193.31 L279.66,193.19 L280.16,193.07 L280.66,192.95 L281.16,192.84 L281.66,192.72 L282.16,192.62 L282.66,192.51 L283.16,192.41 L283.66,192.31 L284.16,192.21 L284.66,192.11 L285.16,192.01 L285.66,191.91 L286.16,191.81 L286.66,191.71 L287.16,191.61 L287.66,191.51 L288.16,191.40 L288.66,191.30 L289.16,191.19 L289.66,191.07 L290.16,190.96 L290.66,190.84 L291.16,190.73 L291.66,190.61 L292.16,190.49 L292.66,190.37 L293.16,190.25 L293.66,190.13 L294.16,190.00 L294.66,189.87 L295.16,189.75 L295.66,189.61 L296.16,189.48 L296.66,189.34 L297.16,189.19 L297.66,189.05 L298.16,188.89 L298.66,188.74 L299.16,188.57 L299.66,188.40 L300.16,188.22 L300.66,188.02 L301.16,187.82 L301.66,187.60 L302.16,187.37 L302.66,187.14 L303.16,186.90 L303.66,186.65 L304.16,186.41 L304.66,186.17 L305.16,185.94 L305.66,185.70 L306.16,185.47 L306.66,185.24 L307.16,185.01 L307.66,184.78 L308.16,184.54 L308.66,184.29 L309.16,184.03 L309.66,183.76 L310.16,183.47 L310.66,183.17 L311.16,182.85 L311.66,182.51 L312.16,182.16 L312.66,181.80 L313.16,181.42 L313.66,181.04 L314.16,180.66 L314.66,180.26 L315.16,179.87 L315.66,179.47 L316.16,179.06 L316.66,178.65 L317.16,178.23 L317.66,177.80 L318.16,177.35 L318.66,176.89 L319.16,176.41 L319.66,175.90 L320.16,175.37 L320.66,174.82 L321.16,174.24 L321.66,173.63 L322.16,172.99 L322.66,172.33 L323.16,171.65 L323.66,170.95 L324.16,170.22 L324.66,169.48 L325.16,168.71 L325.66,167.92 L326.16,167.11 L326.66,166.27 L327.16,165.41 L327.66,164.52 L328.16,163.59 L328.66,162.64 L329.16,161.66 L329.66,160.63 L330.16,159.57 L330.66,158.47 L331.16,157.32 L331.66,156.13 L332.16,154.89 L332.66,153.60 L333.16,152.26 L333.66,150.87 L334.16,149.44 L334.66,147.94 L335.16,146.37 L335.66,144.70 L336.16,142.92 L336.66,141.00 L337.16,138.90 L337.66,136.58 L338.16,134.00 L338.66,131.15 L339.16,128.03 L339.66,124.64 L340.16,121.06 L340.66,117.34 L341.16,113.57 L341.66,109.79 L342.16,106.07 L342.66,102.44 L343.16,98.91 L343.66,95.46 L344.16,92.09 L344.66,88.76 L345.16,85.42 L345.66,82.03 L346.16,78.53 L346.66,74.90 L347.16,71.10 L347.66,67.15 L348.16,63.04 L348.66,58.85 L349.16,54.65 L349.66,50.53 L350.16,46.58 L350.66,42.90 L351.16,39.55 L351.66,36.54 L352.16,33.87 L352.66,31.49 L353.16,29.36 L353.66,27.43 L354.16,25.67 L354.66,24.03 L355.16,22.52 L355.66,21.12 L356.16,19.85 L356.66,18.72 L357.16,17.72 L357.66,16.85 L358.16,16.12 L358.66,15.50 L359.16,14.99 L359.66,14.57 L360.16,14.23 L360.66,13.94 L361.16,13.70 L361.66,13.51 L362.16,13.36 L362.66,13.26 L363.16,13.19 L363.66,13.15 L364.16,13.14 L364.66,13.15 L365.16,13.17 L365.66,13.19 L366.16,13.22 L366.66,13.24 L367.16,13.26 L367.66,13.28 L368.16,13.29 L368.66,13.29 L369.16,13.30 L369.66,13.30 L370.16,13.30 L370.66,13.30 L371.16,13.30 L371.66,13.30 L372.16,13.30 L372.66,13.30 L373.16,13.30 L373.66,13.30 L374.16,13.30 L374.66,13.30 L375.16,13.30 L375.66,13.30 L376.16,13.30 L376.66,13.30 L377.16,13.30 L377.66,13.30 L378.16,13.30 L378.66,13.30 L379.16,13.30 L379.66,13.30 L380.16,13.30 L380.66,13.30 L381.16,13.30 L381.66,13.30 L382.16,13.30 L382.66,13.30 L383.16,13.30 L383.66,13.30 L384.16,13.30 L384.66,13.30 L385.16,13.30 L385.66,13.30 L386.16,13.30 L386.66,13.30 L387.16,13.30 L387.66,13.30 L388.16,13.30 L388.66,13.30 L389.16,13.30 L389.66,13.30 L390.16,13.30 L390.66,13.30 L391.16,13.30 L391.66,13.30 L392.16,13.30 L392.66,13.30 L393.16,13.30 L393.66,13.30 L394.16,13.30 L394.66,13.30 L395.16,13.30 L395.66,13.30 L396.16,13.30 L396.66,13.30 L397.16,13.30 L397.66,13.30 L398.16,13.30 L398.66,13.30 L399.16,13.30 L399.66,13.30 L400.16,13.30 L400.66,13.30 L401.16,13.30 L401.66,13.30 L402.16,13.30 L402.66,13.30 L403.16,13.30 L403.66,13.30 L404.16,13.30 L404.66,13.30 L405.16,13.30 L405.66,13.30 L406.16,13.30 L406.66,13.30 L407.16,13.30 L407.66,13.30 L408.16,13.30 L408.66,13.30 L409.16,13.30 L409.66,13.30 L410.16,13.30 L410.66,13.30 L411.16,13.30 L411.66,13.30 L412.16,13.30 L412.66,13.30 L413.16,13.30 L413.66,13.30 L414.16,13.30 L414.66,13.30 L415.16,13.30 L415.66,13.30 L416.16,13.30 L416.66,13.30 L417.16,13.30 L417.66,13.30 L418.16,13.30 L418.66,13.30 L419.16,13.30 L419.66,13.30 L420.16,13.30 L420.66,13.30 L421.16,13.30 L421.66,13.30 L422.16,13.30 L422.66,13.30 L423.16,13.30 L423.66,13.30 L424.16,13.30 L424.66,13.30 L425.16,13.30 L425.66,13.30 L426.16,13.30 L426.66,13.30 L427.16,13.30 L427.66,13.30 L428.16,13.30 L428.66,13.30 L429.16,13.30 L429.66,13.30 L430.16,13.30 L430.66,13.30 L431.16,13.30 L431.66,13.30 L432.16,13.30 L432.66,13.30 L433.16,13.30 L433.66,13.30 L434.16,13.30 L434.66,13.30 L435.16,13.30 L435.66,13.30 L436.16,13.30 L436.66,13.30 L437.16,13.30 L437.66,13.30 L438.16,13.30 L438.66,13.30 L439.16,13.30 L439.66,13.30 L440.16,13.30 L440.66,13.30 L441.16,13.30 L441.66,13.30 L442.16,13.30 L442.66,13.30 L443.16,13.30 L443.66,13.30 L444.16,13.30 L444.66,13.30 L445.16,13.30 L445.66,13.30 L446.16,13.30 L446.66,13.30 L447.16,13.30 L447.66,13.30 L448.16,13.30 L448.66,13.30 L449.16,13.30 L449.66,13.30 L450.16,13.30 L450.66,13.30 L451.34,13.30" stroke="#ff0000" stroke-width="2.6" stroke-linecap="square" stroke-dasharray="5.3 5.6" stroke-dashoffset="5.1"/>
</g>
<rect x="51.5" y="0.5" width="407.9" height="251.8" fill="none" stroke="#757575" stroke-width="0.9"/>
<path d="M59.66,252.3 v-4.8 M59.66,0.5 v4.8 M79.24,252.3 v-2.8 M79.24,0.5 v2.8 M98.83,252.3 v-2.8 M98.83,0.5 v2.8 M118.41,252.3 v-2.8 M118.41,0.5 v2.8 M138.00,252.3 v-4.8 M138.00,0.5 v4.8 M157.58,252.3 v-2.8 M157.58,0.5 v2.8 M177.16,252.3 v-2.8 M177.16,0.5 v2.8 M196.75,252.3 v-2.8 M196.75,0.5 v2.8 M216.33,252.3 v-4.8 M216.33,0.5 v4.8 M235.92,252.3 v-2.8 M235.92,0.5 v2.8 M255.50,252.3 v-2.8 M255.50,0.5 v2.8 M275.08,252.3 v-2.8 M275.08,0.5 v2.8 M294.67,252.3 v-4.8 M294.67,0.5 v4.8 M314.25,252.3 v-2.8 M314.25,0.5 v2.8 M333.84,252.3 v-2.8 M333.84,0.5 v2.8 M353.42,252.3 v-2.8 M353.42,0.5 v2.8 M373.00,252.3 v-4.8 M373.00,0.5 v4.8 M392.59,252.3 v-2.8 M392.59,0.5 v2.8 M412.17,252.3 v-2.8 M412.17,0.5 v2.8 M431.76,252.3 v-2.8 M431.76,0.5 v2.8 M451.34,252.3 v-4.8 M451.34,0.5 v4.8 M51.5,251.75 h2.8 M459.4,251.75 h-2.8 M51.5,240.40 h4.8 M459.4,240.40 h-4.8 M51.5,229.05 h2.8 M459.4,229.05 h-2.8 M51.5,217.70 h2.8 M459.4,217.70 h-2.8 M51.5,206.35 h2.8 M459.4,206.35 h-2.8 M51.5,195.00 h4.8 M459.4,195.00 h-4.8 M51.5,183.65 h2.8 M459.4,183.65 h-2.8 M51.5,172.30 h2.8 M459.4,172.30 h-2.8 M51.5,160.95 h2.8 M459.4,160.95 h-2.8 M51.5,149.60 h4.8 M459.4,149.60 h-4.8 M51.5,138.25 h2.8 M459.4,138.25 h-2.8 M51.5,126.90 h2.8 M459.4,126.90 h-2.8 M51.5,115.55 h2.8 M459.4,115.55 h-2.8 M51.5,104.20 h4.8 M459.4,104.20 h-4.8 M51.5,92.85 h2.8 M459.4,92.85 h-2.8 M51.5,81.50 h2.8 M459.4,81.50 h-2.8 M51.5,70.15 h2.8 M459.4,70.15 h-2.8 M51.5,58.80 h4.8 M459.4,58.80 h-4.8 M51.5,47.45 h2.8 M459.4,47.45 h-2.8 M51.5,36.10 h2.8 M459.4,36.10 h-2.8 M51.5,24.75 h2.8 M459.4,24.75 h-2.8 M51.5,13.40 h4.8 M459.4,13.40 h-4.8 M51.5,2.05 h2.8 M459.4,2.05 h-2.8" fill="none" stroke="#606060" stroke-width="0.85"/>
<g opacity="0.999" stroke="#000" stroke-width="0.25">
<g font-size="12px" fill="#000">
<text x="58.16" y="267" text-anchor="middle">−6</text>
<text x="136.50" y="267" text-anchor="middle">−4</text>
<text x="214.83" y="267" text-anchor="middle">−2</text>
<text x="294.17" y="267" text-anchor="middle">0</text>
<text x="372.50" y="267" text-anchor="middle">2</text>
<text x="450.84" y="267" text-anchor="middle">4</text>
<text x="46.2" y="243.90" text-anchor="end">0.0</text>
<text x="46.2" y="198.50" text-anchor="end">0.2</text>
<text x="46.2" y="153.10" text-anchor="end">0.4</text>
<text x="46.2" y="107.70" text-anchor="end">0.6</text>
<text x="46.2" y="62.30" text-anchor="end">0.8</text>
<text x="46.2" y="16.90" text-anchor="end">1.0</text>
</g>
<g fill="none" stroke-width="1">
<line x1="81.5" y1="38.5" x2="103.1" y2="38.5" stroke="#4a44f2"/>
<path d="M81.2,76.5 h2.4 M88,76.5 h6.8 M99.1,76.5 h2.3" stroke="#a040a0"/>
<path d="M81.2,114.5 h5.8 M92.6,114.5 h6.1" stroke="#ff5050"/>
</g>
<g font-size="12px" fill="#000">
<text x="117.3" y="39.7">Γ<tspan font-style="italic" font-size="8.5px" dy="3.3" dx="0.6">j</tspan><tspan dy="-3.3" dx="1.5"> = 4</tspan></text>
<text x="117.6" y="79.8">10</text>
<text x="117.6" y="117.7">25</text>
</g>
<text transform="translate(14,132.5) rotate(-90)" font-size="12px" fill="#111" font-style="italic">f<tspan font-size="7.8px" dy="2.4" dx="2.0">ξ</tspan></text>
<text x="255.2" y="293.3" font-size="14.5px" fill="#111" font-style="italic" text-anchor="middle" font-family="Liberation Serif">α</text>
<path d="M253.2,283.2 q1,-1.2 2,-0.4 t2,-0.4" fill="none" stroke="#111" stroke-width="0.9"/>
</g>
</svg>
</body></html>
